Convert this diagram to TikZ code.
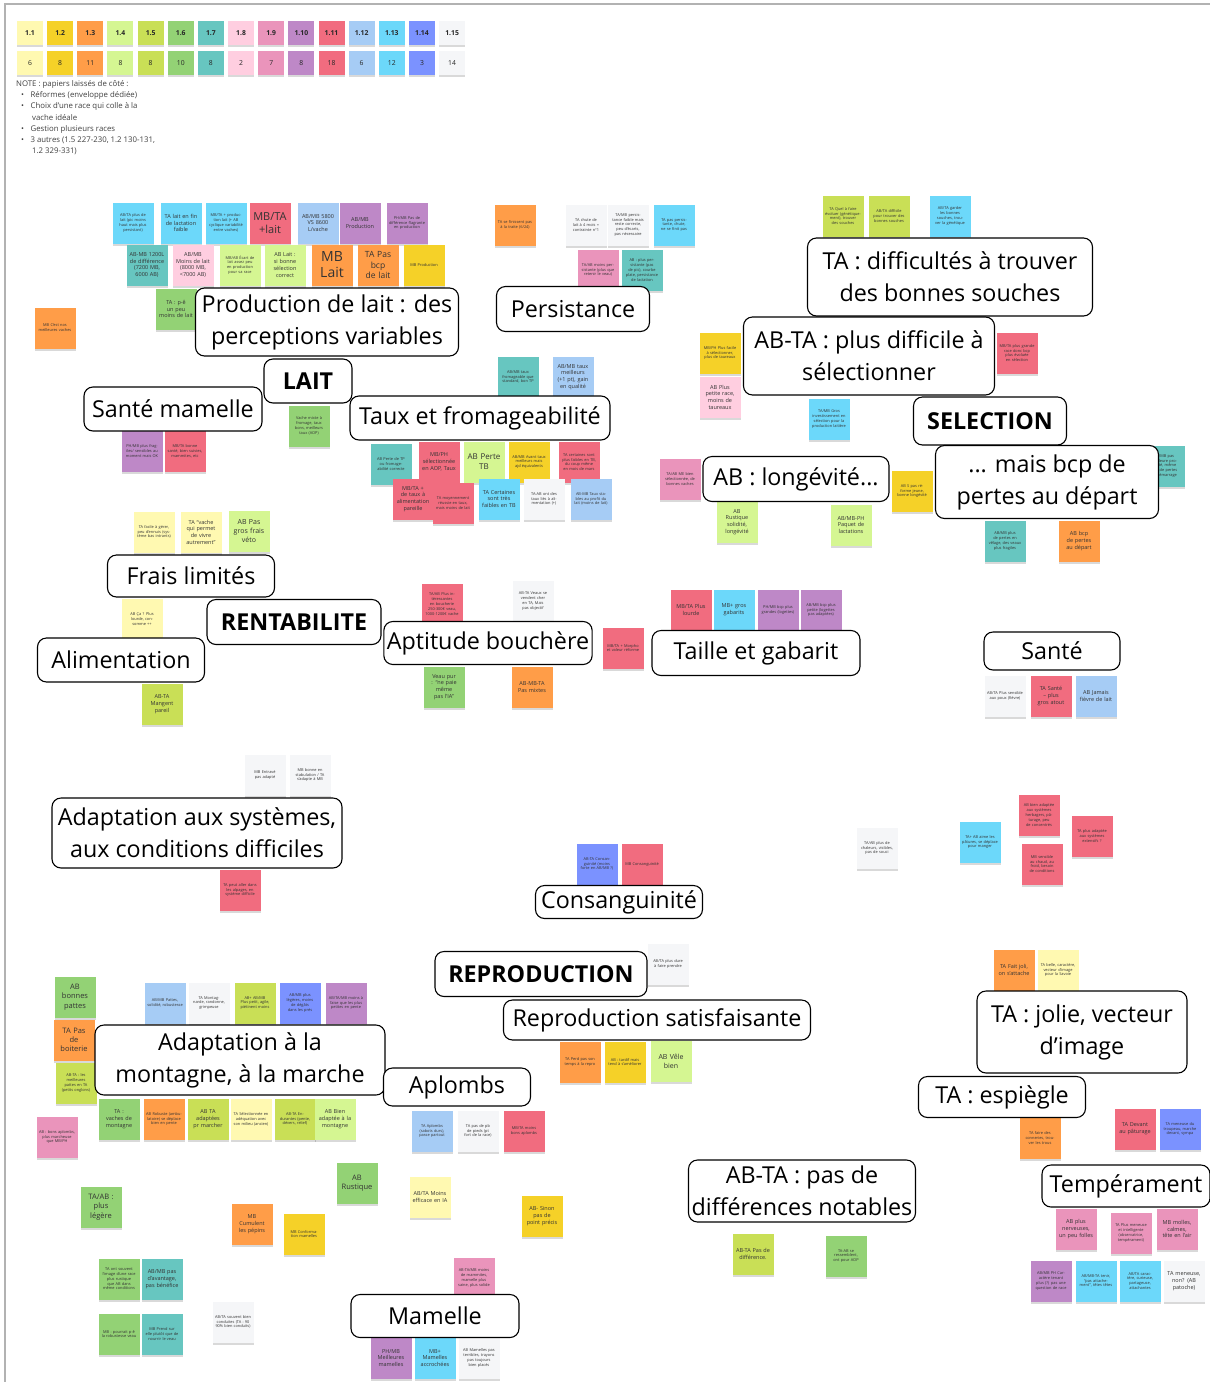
\documentclass[tikz,border=0pt]{standalone}
\usepackage{fontspec}
\setmainfont{Open Sans}
\usepackage{xcolor}
\usetikzlibrary{shadows}

% sticky note palette
\definecolor{c1}{HTML}{FFF9B1}
\definecolor{c2}{HTML}{F5D128}
\definecolor{c3}{HTML}{FF9D48}
\definecolor{c4}{HTML}{D5F692}
\definecolor{c5}{HTML}{C9DF56}
\definecolor{c6}{HTML}{93D275}
\definecolor{c7}{HTML}{67C6C0}
\definecolor{c8}{HTML}{FFCEE0}
\definecolor{c9}{HTML}{EA94BB}
\definecolor{c10}{HTML}{BE88C7}
\definecolor{c11}{HTML}{F16C7F}
\definecolor{c12}{HTML}{A6CCF5}
\definecolor{c13}{HTML}{6CD8FA}
\definecolor{c14}{HTML}{7B92FF}
\definecolor{c15}{HTML}{F5F6F8}

% \postit[options]{name}{x,y}{colour}{text}
\newcommand{\postit}[5][]{\node[postit,fill=#4,#1] (#2) at (#3) {#5};}

\begin{document}
\begin{tikzpicture}[x=1pt, y=-1pt,
    % Styles for the board
    postit/.style={rectangle, minimum width=41pt, minimum height=41pt, text width=36pt, inner sep=1pt,
        align=center, text=black!80, font=\fontsize{3.9}{4.8}\selectfont,
        drop shadow={shadow xshift=0pt, shadow yshift=-2.5pt, fill=black, opacity=0.15}},
    txtS/.style={font=\fontsize{5.5}{6.7}\selectfont},
    txtM/.style={font=\fontsize{7.5}{9.2}\selectfont},
    txtL/.style={font=\fontsize{11}{13}\selectfont},
    legendkey/.style={rectangle, minimum width=26pt, minimum height=24pt, inner sep=0pt,
        font=\fontsize{6.8}{7}\selectfont, text=black!85,
        drop shadow={shadow xshift=0pt, shadow yshift=-2pt, fill=black, opacity=0.15}},
    topic/.style={draw, rounded corners=9pt, line width=1.1pt, fill=white, align=center,
        inner sep=3pt, font=\fontsize{23.3}{32}\selectfont},
    heading/.style={topic, font=\bfseries\fontsize{23.3}{26}\selectfont}]

    \useasboundingbox (0,0) rectangle (1210,1382);
    \fill[white] (0,0) rectangle (1210,1382);
    \draw[gray!60, line width=1.5pt] (5,1382) -- (5,4) -- (1210,4);

    % Legend
    \foreach \lbl/\cnt/\col [count=\i from 0] in {1.1/6/c1, 1.2/8/c2, 1.3/11/c3, 1.4/8/c4, 1.5/8/c5,
        1.6/10/c6, 1.7/8/c7, 1.8/2/c8, 1.9/7/c9, 1.10/8/c10, 1.11/18/c11, 1.12/6/c12, 1.13/12/c13,
        1.14/3/c14, 1.15/14/c15} {
        \node[legendkey, fill=\col] (key\i) at (30+30.15*\i, 33) {\textbf{\lbl}};
        \node[legendkey, fill=\col] (cnt\i) at (30+30.15*\i, 63) {\cnt};
    }
    \node[anchor=north west, align=left, inner sep=0pt, text=black!75,
        font=\fontsize{7.8}{11.3}\selectfont] (note) at (16,80) {NOTE : papiers laissés de côté :\\
        \hspace*{5pt}•\hspace{6.5pt}Réformes (enveloppe dédiée)\\
        \hspace*{5pt}•\hspace{6.5pt}Choix d'une race qui colle à la\\
        \hspace*{16pt}vache idéale\\
        \hspace*{5pt}•\hspace{6.5pt}Gestion plusieurs races\\
        \hspace*{5pt}•\hspace{6.5pt}3 autres (1.5 227-230, 1.2 130-131,\\
        \hspace*{16pt}1.2 329-331)};

    % LAIT : production
    \postit{p1}{133,223}{c13}{AB/TA plus de lait (pic moins haut mais plus persistant)}
    \postit[txtS]{p2}{181,223}{c13}{TA lait en fin de lactation faible}
    \postit{p3}{226,223}{c13}{MB/TA + production lait (+ AB cyclique variabilité entre vaches)}
    \postit[txtL]{p4}{270,223}{c11}{MB/TA\\+lait}
    \postit[txtS]{p5}{318,223}{c12}{AB/MB 5800 VS 8600 L/vache}
    \postit[txtS]{p6}{360,223}{c10}{AB/MB Production}
    \postit{p7}{407,223}{c10}{PH/MB Pas de différence flagrante en production}
    \postit[txtS]{p8}{147,265}{c7}{AB-MB 1200L de différence (7200 MB, 6000 AB)}
    \postit[txtS]{p9}{193,265}{c8}{AB/MB Moins de lait (8000 MB, <7000 AB)}
    \postit{p10}{240,265}{c4}{MB/AB Écart de lait assez peu en production pour sa race}
    \postit[txtS]{p11}{285,265}{c4}{AB Lait : si bonne sélection correct}
    \postit[font=\fontsize{14}{16}\selectfont]{p12}{332,265}{c3}{MB\\Lait}
    \postit[font=\fontsize{8.5}{10.5}\selectfont]{p13}{378,265}{c3}{TA Pas bcp de lait}
    \postit{p14}{424,265}{c2}{MB Production}
    \postit[txtS]{p15}{176,309}{c6}{TA : p-ê un peu moins de lait}
    \postit{p16}{55,328}{c3}{MB C'est nos meilleures vaches}

    % Persistance
    \postit{q1}{515,225}{c3}{TA se finissent pas à la traite (6/24)}
    \postit{q2}{586,225}{c15}{TA chute de lait à 4 mois = contrainte n°1}
    \postit{q3}{628,225}{c15}{TA/MB persistance faible mais reste correcte, peu d'écarts, pas nécessaire}
    \postit{q4}{674,225}{c13}{TA pas persistante, chute, ne se finit pas}
    \postit{q5}{598,270}{c9}{TA/AB moins persistante (plus que retenir le veau)}
    \postit{q6}{642,270}{c7}{AB : plus persistante (pas de pic), courbe plate, persistance de lactation}

    % SELECTION
    \postit{s1}{843,216}{c5}{TA Quel à faire évoluer (génétiquement), trouver des souches}
    \postit{s2}{889,216}{c5}{AB/TA difficile pour trouver des bonnes souches}
    \postit{s3}{950,216}{c13}{AB/TA garder les bonnes souches, trouver la génétique}
    \postit{s4}{720,353}{c2}{MB/PH Plus facile à sélectionner, plus de taureaux}
    \postit[txtS]{s5}{720,397}{c8}{AB Plus petite race, moins de taureaux}
    \postit{s6}{1017,353}{c11}{MB/TA plus grande race donc bcp plus évoluée en sélection}
    \postit{s7}{829,419}{c13}{TA/MB Gros investissement en sélection pour la production laitière}
    \postit{s8}{680,479}{c9}{TA/AB ME bien sélectionnée, de bonnes vaches}
    \postit[txtS]{s9}{737,522}{c4}{AB\\Rustique solidité, longévité}
    \postit[txtS]{s10}{851,525}{c4}{AB/MB-PH Paquet de lactations}
    \postit{s11}{912,491}{c2}{AB S pas réforme jeune, bonne longévité}
    \postit{s12}{1164,466}{c7}{AB/MB pas meilleure prolificité, même plus de pertes au démarrage}
    \postit{s13}{1005,541}{c7}{AB/MB plus de pertes en vêlage, des veaux plus fragiles}
    \postit[txtS]{s14}{1079,541}{c3}{AB bcp de pertes au départ}

    % LAIT : taux, santé mamelle
    \postit{l1}{518,377}{c7}{AB/MB taux fromageable que standard, bon TP}
    \postit[txtS]{l2}{573,377}{c12}{AB/MB taux meilleurs (+1 pt), gain en qualité}
    \postit{l3}{309,426}{c6}{Vache mixte à fromage, taux bons, meilleurs taux (AOP)}
    \postit{l4}{142,451}{c10}{PH/MB plus fragiles/ sensibles au moment mais OK}
    \postit{l5}{185,451}{c11}{MB/TA bonne santé, bien suivies, mammites, etc}
    \postit{l6}{391,464}{c7}{AB Perte de TP ou fromageabilité correcte}
    \postit[txtS]{l7}{439,462}{c11}{MB/PH sélectionnée en AOP, Taux}
    \postit[font=\fontsize{8}{10}\selectfont]{l8}{484,462}{c4}{AB Perte\\TB}
    \postit{l9}{529,462}{c2}{AB/MB Avant taux meilleurs mais ajd équivalents}
    \postit{l10}{579,462}{c11}{TA certaines sont plus faibles en TB, du coup même en mois de mars}
    \postit[txtS]{l11}{413,499}{c11}{MB/TA + de taux à alimentation pareille}
    \postit{l12}{453,503}{c11}{TA moyennement réussie en taux, mais moins de lait}
    \postit[txtS]{l13}{499,499}{c13}{TA Certaines sont très faibles en TB}
    \postit{l14}{544,499}{c15}{TA-AB ont des taux liés à alimentation (+)}
    \postit{l15}{591,499}{c12}{AB-MB Taux stables au profit du lait (moins de lait)}

    % RENTABILITE
    \postit{r1}{154,532}{c1}{TA facile à gérer, peu d'ennuis (système bas intrants)}
    \postit[txtS]{r2}{201,532}{c1}{TA “vache qui permet de vivre autrement”}
    \postit[font=\fontsize{7}{9}\selectfont]{r3}{249,531}{c4}{AB Pas gros frais véto}
    \postit{r4}{142,619}{c1}{AB Ça ? Plus lourde, consomme ++}
    \postit[txtS]{r5}{162,704}{c5}{AB-TA Mangent pareil}
    \postit{r6}{442,604}{c11}{TA/AB Plus intéressantes en boucherie 250-300€ veau, 1000-1200€ vache}
    \postit{r7}{533,601}{c15}{AB-TA Veaux se vendent cher en TA, Mais pas objectif}
    \postit{r8}{623,648}{c11}{MB/TA + Morpho et valeur réforme}
    \postit[txtS]{r9}{444,687}{c6}{Veau pur : “ne paie même pas l'IA”}
    \postit[txtS]{r10}{532,687}{c3}{AB-MB-TA Pas mixtes}

    % Taille et gabarit
    \postit[txtS]{t1}{691,610}{c11}{MB/TA Plus lourde}
    \postit[txtS]{t2}{734,610}{c13}{MB+ gros gabarits}
    \postit{t3}{778,610}{c10}{PH/MB bcp plus grandes (logettes)}
    \postit{t4}{821,610}{c10}{AB/MB bcp plus petite (logettes pas adaptées)}

    % Santé
    \postit{h1}{1005,696}{c15}{AB/TA Plus sensible aux poux (fièvre)}
    \postit[txtS]{h2}{1051,696}{c11}{TA Santé – plus gros atout}
    \postit[txtS]{h3}{1096,696}{c12}{AB Jamais fièvre de lait}

    % Adaptation aux systèmes
    \postit{a1}{265,775}{c15}{MB Entravé pas adapté}
    \postit{a2}{310,775}{c15}{MB bonne en stabulation / TA s'adapte à MB}
    \postit{a3}{240,890}{c11}{TA peut aller dans les alpages, en système difficile}

    % Consanguinité
    \postit{k1}{597,864}{c14}{AB-TA Consanguinité (moins forte en AB/MB ?)}
    \postit{k2}{642,864}{c11}{MB Consanguinité}

    % notes isolées
    \postit{f1}{877,848}{c15}{TA/AB plus de chaleurs, visibles, pas de souci}
    \postit{f2}{980,842}{c13}{TA+ AB aime les pâtures, se déplace pour manger}
    \postit{f3}{1039,815}{c11}{AB bien adaptée aux systèmes herbagers, pâturage, peu de concentrés}
    \postit{f4}{1092,836}{c11}{TA plus adaptée aux systèmes extensifs ?}
    \postit{f5}{1042,864}{c11}{MB sensible au chaud, au froid, besoin de conditions}

    % Adaptation à la montagne
    \postit[txtM]{m1}{75,997}{c6}{AB\\bonnes\\pattes}
    \postit[txtM]{m2}{74,1040}{c3}{TA Pas\\de\\boiterie}
    \postit{m3}{76,1083}{c5}{AB-TA : les meilleures pattes en TA (petits onglons)}
    \postit{m4}{57,1137}{c9}{AB : bons aplombs, plus marcheuse que MB/PH}
    \postit{m5}{165,1003}{c12}{AB/MB Pattes, solidité, robustesse}
    \postit{m6}{209,1003}{c15}{TA Montagnarde, randonne, grimpeuse}
    \postit{m7}{255,1003}{c5}{AB+ AB/MB Plus petit, agile, piétinent moins}
    \postit{m8}{300,1003}{c14}{AB/MB plus légères, moins de dégâts dans les prés}
    \postit{m9}{346,1003}{c10}{AB/TA/MB moins à l'aise que les plus petites en pente}
    \postit[txtS]{m10}{119,1119}{c6}{TA :\\vaches de montagne}
    \postit{m11}{164,1119}{c3}{AB Robuste (ambulatoire) se déplace bien en pente}
    \postit[txtS]{m12}{208,1119}{c5}{AB TA adaptées pr marcher}
    \postit{m13}{251,1119}{c1}{TA Sélectionnée en adéquation avec son milieu (ancien)}
    \postit{m14}{295,1119}{c5}{AB-TA Endurantes (pente, dévers, relief)}
    \postit[txtS]{m15}{335,1119}{c4}{AB Bien adaptée à la montagne}

    % Aplombs
    \postit{ap1}{432,1131}{c12}{TA Aplombs (sabots durs), passe partout}
    \postit{ap2}{478,1131}{c15}{TA pas de pb de pieds (pt fort de la race)}
    \postit{ap3}{524,1131}{c11}{MB/TA moins bons aplombs}

    % REPRODUCTION
    \postit{rp1}{668,964}{c15}{AB/TA plus dure à faire prendre}
    \postit{rp2}{580,1062}{c3}{TA Perd pas son temps à la repro}
    \postit{rp3}{625,1062}{c2}{AB : tardif mais tend à s'améliorer}
    \postit[font=\fontsize{7}{9}\selectfont]{rp4}{671,1061}{c4}{AB Vêle bien}

    % TA : jolie, espiègle
    \postit[txtS]{j1}{1014,970}{c3}{TA Fait joli, on s'attache}
    \postit{j2}{1058,970}{c1}{TA belle, caractère, vecteur d'image pour la Savoie}
    \postit{j3}{1040,1138}{c3}{TA faire des conneries, trouver les trous}
    \postit[txtS]{j4}{1135,1129}{c11}{TA Devant au pâturage}
    \postit{j5}{1180,1129}{c14}{TA meneuse du troupeau, marche devant, sympa}

    % Tempérament
    \postit[txtS]{e1}{1076,1229}{c9}{AB plus nerveuses, un peu folles}
    \postit{e2}{1131,1233}{c9}{TA Plus meneuse et intelligente (observatrice, tempérament)}
    \postit[txtS]{e3}{1177,1229}{c9}{MB molles, calmes, tête en l'air}
    \postit{e4}{1051,1281}{c10}{AB/MB PH Caractère tenant plus (?) pas une question de race}
    \postit{e5}{1096,1281}{c13}{AB/MB-TA tenir, “pas attachement”, têtes têtes}
    \postit{e6}{1140,1281}{c13}{AB/TA caractère, curieuse, partageuse, attachantes}
    \postit[txtS]{e7}{1184,1281}{c15}{TA meneuse, non? (AB patoche)}

    % AB-TA : pas de différences
    \postit[txtS]{d1}{753,1254}{c5}{AB-TA Pas de différence.}
    \postit{d2}{846,1256}{c6}{TA-AB se ressemblent, ont pour AOP}

    % bas de la planche
    \postit[txtM]{b1}{101,1207}{c6}{TA/AB :\\plus\\légère}
    \postit[txtS]{b2}{252,1224}{c3}{MB\\Cumulent les pépins}
    \postit{b3}{304,1234}{c2}{MB Conformation mamelles}
    \postit[txtM]{b4}{357,1183}{c6}{AB\\Rustique}
    \postit[txtS]{b5}{430,1197}{c1}{AB/TA Moins efficace en IA}
    \postit[txtS]{b6}{542,1216}{c2}{AB- Sinon pas de point précis}
    \postit{b7}{119,1279}{c6}{TA ont souvent l'image d'une race plus rustique que AB dans même conditions}
    \postit[txtS]{b8}{162,1279}{c7}{AB/MB pas d'avantage, pas bénéfice}
    \postit{b9}{119,1334}{c6}{MB : pourrait p-ê la robustesse veau}
    \postit{b10}{162,1334}{c7}{MB Prend sur elle plutôt que de nourrir le veau}
    \postit{b11}{233,1322}{c15}{AB/TA souvent bien conduites (TA : 90 90\% bien conduits)}
    \postit{b12}{474,1278}{c9}{AB-TA/MB moins de mammites, mamelle plus saine, plus solide}
    \postit[txtS]{b13}{391,1358}{c10}{PH/MB Meilleures mamelles}
    \postit[txtS]{b14}{435,1358}{c13}{MB+ Mamelles accrochées}
    \postit{b15}{479,1358}{c15}{AB Mamelles pas terribles, trayons pas toujours bien placés}

    % Topics
    \node[topic, minimum width=263pt, minimum height=68pt] (prod) at (327,322) {Production de lait : des\\perceptions variables};
    \node[topic, minimum width=153pt, minimum height=45pt] (pers) at (573,309) {Persistance};
    \node[topic, minimum width=285pt, minimum height=78pt] (tadiff) at (950,277) {TA : difficultés à trouver\\des bonnes souches};
    \node[topic, minimum width=251pt, minimum height=78pt] (abtasel) at (869,356) {AB-TA : plus difficile à\\sélectionner};
    \node[heading, minimum width=153pt, minimum height=48pt] (selection) at (990,421) {SELECTION};
    \node[topic, minimum width=186pt, minimum height=45pt] (longev) at (796,479) {AB : longévité...};
    \node[topic, minimum width=223pt, minimum height=73pt] (pertes) at (1047,482) {... mais bcp de\\pertes au départ};
    \node[heading, minimum width=88pt, minimum height=44pt] (lait) at (308,381) {LAIT};
    \node[topic, minimum width=178pt, minimum height=44pt] (santemam) at (173,409) {Santé mamelle};
    \node[topic, minimum width=260pt, minimum height=44pt] (taux) at (480,418) {Taux et fromageabilité};
    \node[topic, minimum width=167pt, minimum height=42pt] (frais) at (191,576) {Frais limités};
    \node[heading, minimum width=174pt, minimum height=45pt] (rentab) at (294,622) {RENTABILITE};
    \node[topic, minimum width=167pt, minimum height=44pt] (alim) at (121,660) {Alimentation};
    \node[topic, minimum width=207pt, minimum height=43pt] (bouchere) at (488,643) {Aptitude bouchère};
    \node[topic, minimum width=208pt, minimum height=45pt] (taille) at (756,653) {Taille et gabarit};
    \node[topic, minimum width=136pt, minimum height=38pt] (sante) at (1052,651) {Santé};
    \node[topic, minimum width=290pt, minimum height=70pt] (adaptsys) at (197,833) {Adaptation aux systèmes,\\aux conditions difficiles};
    \node[topic, minimum width=167pt, minimum height=33pt] (consang) at (619,902) {Consanguinité};
    \node[heading, minimum width=212pt, minimum height=45pt] (repro) at (541,974) {REPRODUCTION};
    \node[topic, minimum width=307pt, minimum height=40pt] (reprosat) at (657,1020) {Reproduction satisfaisante};
    \node[topic, minimum width=210pt, minimum height=82pt] (jolie) at (1082,1032) {TA : jolie, vecteur\\d'image};
    \node[topic, minimum width=167pt, minimum height=41pt] (espiegle) at (1002,1097) {TA : espiègle};
    \node[topic, minimum width=290pt, minimum height=70pt] (montagne) at (240,1060) {Adaptation à la\\montagne, à la marche};
    \node[topic, minimum width=147pt, minimum height=38pt] (aplombs) at (457,1087) {Aplombs};
    \node[topic, minimum width=227pt, minimum height=62pt] (abtapas) at (802,1191) {AB-TA : pas de\\différences notables};
    \node[topic, minimum width=168pt, minimum height=42pt] (temper) at (1126,1186) {Tempérament};
    \node[topic, minimum width=168pt, minimum height=43pt] (mamelle) at (435,1316) {Mamelle};

\end{tikzpicture}
\end{document}
